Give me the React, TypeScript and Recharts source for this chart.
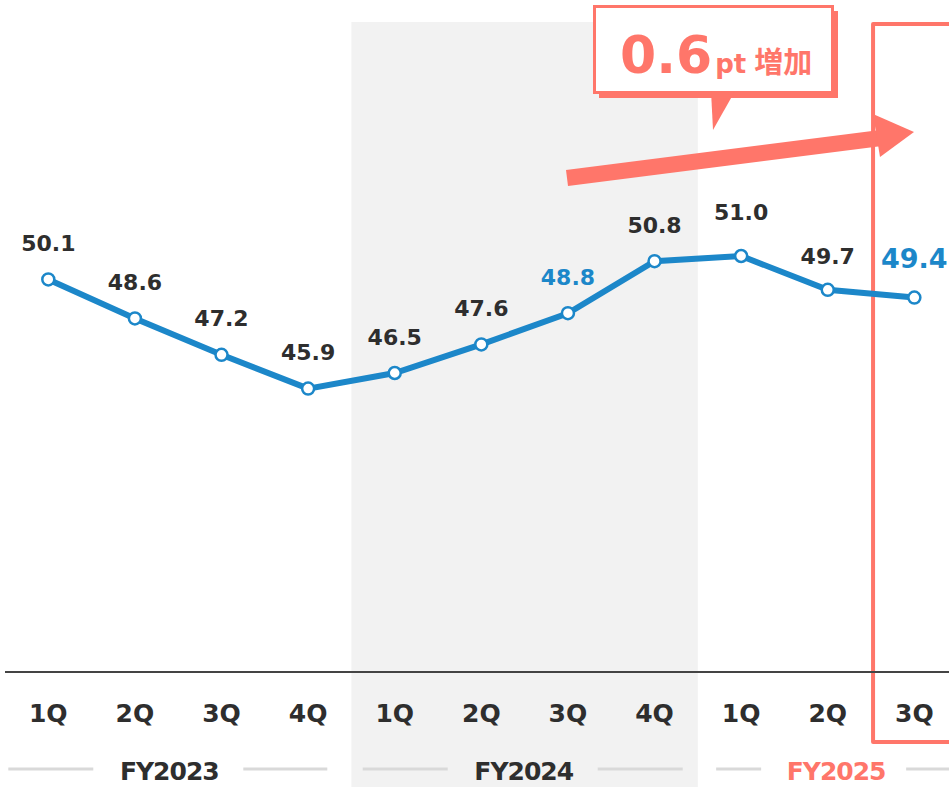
import React from "react";
import {
  LineChart,
  Line,
  XAxis,
  YAxis,
  ReferenceArea,
} from "recharts";

const quarters = ["1Q", "2Q", "3Q", "4Q", "1Q", "2Q", "3Q", "4Q", "1Q", "2Q", "3Q"];
const ratio = [50.1, 48.6, 47.2, 45.9, 46.5, 47.6, 48.8, 50.8, 51.0, 49.7, 49.4];
const fiscalYears = ["FY2023", "FY2024", "FY2025"];
const fiscalStart = [0, 4, 8];
const highlighted = [6, 10];
const callout = { value: "0.6", unit: "pt", word: "増加" };

const BLUE = "#1C87C9";
const SALMON = "#FF766A";
const TEXT = "#2E2E2E";
const FONT = "'DejaVu Sans', Verdana, sans-serif";

const data = quarters.map((q, i) => ({ idx: i, q, value: ratio[i] }));

// label lift (px above point) and group label layout, relative to the first tick of a year
const labelLift: Record<number, number> = { 8: 44, 9: 33, 10: 39 };
const groupLayout = [
  { center: 121, left: [-40, 45], right: [195, 279] },
  { center: 129, left: [-32, 53], right: [203, 288] },
  { center: 95, left: [-25, 20], right: [165, 215] },
];

const QuarterTick = (props: any) => {
  const { x, y, payload } = props;
  const i = payload.value as number;
  const g = fiscalStart.indexOf(i);
  return (
    <g>
      <text
        x={x}
        y={y + 33}
        textAnchor="middle"
        dominantBaseline="central"
        fontFamily={FONT}
        fontWeight="bold"
        fontSize={25}
        fill={TEXT}
      >
        {quarters[i]}
      </text>
      {g >= 0 && (
        <g>
          <line x1={x + groupLayout[g].left[0]} x2={x + groupLayout[g].left[1]} y1={y + 89} y2={y + 89} stroke="#D9D9D9" strokeWidth={3} />
          <line x1={x + groupLayout[g].right[0]} x2={x + groupLayout[g].right[1]} y1={y + 89} y2={y + 89} stroke="#D9D9D9" strokeWidth={3} />
          <text
            x={x + groupLayout[g].center}
            y={y + 91}
            textAnchor="middle"
            dominantBaseline="central"
            fontFamily={FONT}
            fontWeight="bold"
            fontSize={25}
            letterSpacing={-1}
            fill={g === 2 ? SALMON : TEXT}
          >
            {fiscalYears[g]}
          </text>
        </g>
      )}
    </g>
  );
};

const ValueLabel = (props: any) => {
  const { x, y, value, index } = props;
  const hi = highlighted.includes(index);
  const lift = labelLift[index] ?? 36;
  return (
    <text
      x={x}
      y={y - lift}
      textAnchor="middle"
      dominantBaseline="central"
      fontFamily={FONT}
      fontWeight="bold"
      fontSize={index === 10 ? 27 : 22}
      fill={hi ? BLUE : TEXT}
    >
      {Number(value).toFixed(1)}
    </text>
  );
};

const GrayBand = (props: any) => {
  const { x, y, width } = props;
  return <rect x={x} y={y} width={width} height={787 - y} fill="#F2F2F2" />;
};

const FocusFrame = (props: any) => {
  const { x, y, width } = props;
  return (
    <path
      d={`M${x + width + 20},${y + 2} L${x + 2},${y + 2} L${x + 2},742 L${x + width + 20},742`}
      fill="none"
      stroke={SALMON}
      strokeWidth={4}
      strokeLinejoin="round"
    />
  );
};

export default function App() {
  return (
    <div style={{ position: "absolute", left: 0, top: 0, width: 949, height: 787, overflow: "hidden", background: "#fff" }}>
      <LineChart
        width={949}
        height={787}
        data={data}
        margin={{ top: 22, right: 0, bottom: 85, left: 5 }}
      >
        <ReferenceArea x1={3.5} x2={7.5} shape={<GrayBand />} ifOverflow="visible" />
        <XAxis
          dataKey="idx"
          type="number"
          domain={[-0.5, 10.4]}
          ticks={quarters.map((_, i) => i)}
          interval={0}
          tickLine={false}
          axisLine={{ stroke: "#444", strokeWidth: 2 }}
          tick={<QuarterTick />}
        />
        <YAxis hide domain={[35, 60]} />
        <Line
          dataKey="value"
          stroke={BLUE}
          strokeWidth={6}
          dot={{ r: 6, fill: "#fff", stroke: BLUE, strokeWidth: 2.5 }}
          label={<ValueLabel />}
          isAnimationActive={false}
        />
        <ReferenceArea x1={9.5} x2={10.4} shape={<FocusFrame />} ifOverflow="visible" />
      </LineChart>
      <svg
        width={949}
        height={787}
        style={{ position: "absolute", left: 0, top: 0, pointerEvents: "none" }}
      >
        <polygon points="566,170 880,130 882,146 568,186" fill={SALMON} />
        <polygon points="873,114 880,157 914,132" fill={SALMON} />
        <rect x={599} y={11} width={239} height={87} fill={SALMON} />
        <rect x={594.5} y={6.5} width={238} height={86} fill="#fff" stroke={SALMON} strokeWidth={3} />
        <polygon points="711,91 735,91 713,130" fill={SALMON} />
        <text x={620} y={73} fontFamily={FONT} fontWeight="bold" fill={SALMON}>
          <tspan fontSize={52}>{callout.value}</tspan>
          <tspan fontSize={26} dx={3}>{callout.unit}</tspan>
          <tspan fontSize={29} dx={8} fontFamily="'Noto Sans CJK JP', sans-serif">{callout.word}</tspan>
        </text>
      </svg>
    </div>
  );
}
